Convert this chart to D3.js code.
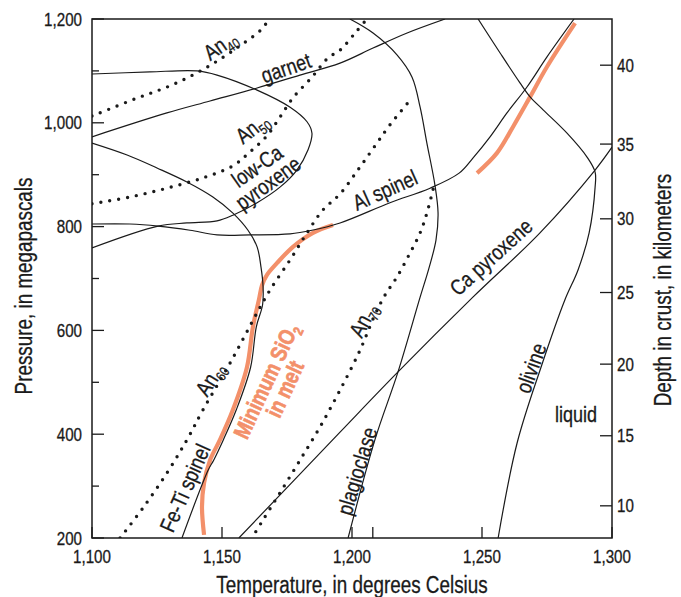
<!DOCTYPE html>
<html>
<head>
<meta charset="utf-8">
<script src="https://cdn.jsdelivr.net/npm/d3@7"></script>
<style>
  body { margin: 0; background: #fff; }
  text { font-family: "Liberation Sans", Arial, sans-serif; fill: #1a1a1a; stroke: #1a1a1a; stroke-width: 0.3px; }
  text.melt { font-weight: bold; fill: #f3906a; stroke: #f3906a; stroke-width: 0.7px; }
</style>
</head>
<body>
<svg id="chart" width="681" height="597"></svg>
<script>
//  axis ticks
const tempTicks = [1100, 1150, 1200, 1250, 1300];
const tempMinorTicks = [1208];
const pressureTicks = [200, 300, 400, 500, 600, 700, 800, 900, 1000, 1100, 1200];
const depthKm = [10, 15, 20, 25, 30, 35, 40];
const depthPressure = [262, 397, 535, 673, 815, 959, 1111];

//  phase boundaries, [temperature C, pressure MPa]
const garnet = [[1100, 973], [1128.8, 1019], [1145.4, 1042], [1163.5, 1067], [1180, 1092], [1195.4, 1115], [1208.1, 1144], [1221.2, 1173], [1235.8, 1200]];
const lowCaPyroxene = [[1100, 1094], [1122.3, 1098], [1140.4, 1100], [1148.1, 1092], [1163.5, 1063], [1176.2, 1030], [1182.7, 1002], [1184.6, 980], [1183.1, 948], [1178.8, 909], [1172.3, 876], [1163.5, 846], [1154.2, 822], [1148.1, 811], [1136.5, 807], [1125.4, 801], [1100, 759]];
const alSpinel = [[1100, 805], [1114.6, 805], [1125.4, 801], [1137.7, 793], [1148.1, 784], [1160.8, 784], [1176.2, 786], [1184.6, 793], [1195.4, 807], [1214.6, 846], [1230, 874], [1241.2, 903], [1246.5, 932], [1253.1, 973], [1259.6, 1019], [1267.3, 1069], [1275, 1127], [1285.4, 1200]];
const feTiSpinel = [[1100, 961], [1113.5, 938], [1125, 913], [1136.5, 886], [1146.5, 857], [1154.2, 826], [1160, 793], [1163.5, 761], [1165, 722], [1165.8, 684], [1165.6, 649], [1163.2, 607], [1161, 529], [1155.5, 447], [1150.5, 389], [1146.8, 350], [1144.6, 330], [1134.6, 200]];
const plagioclase = [[1199.2, 1200], [1208.1, 1173], [1217.3, 1131], [1223.1, 1088], [1226.2, 1030], [1228.8, 961], [1231.9, 880], [1233.1, 826], [1232.3, 774], [1229.6, 720], [1226.2, 664], [1217.7, 520], [1208.8, 389], [1198.5, 200]];
const caPyroxene = [[1300, 953], [1293.5, 909], [1272.3, 788], [1246.5, 664], [1217.7, 520], [1195.4, 404], [1156.5, 200]];
const olivine = [[1248.5, 1200], [1256.9, 1135], [1264.6, 1077], [1268.5, 1050], [1273.5, 1025], [1282.7, 980], [1290.4, 934], [1293.5, 905], [1293.5, 876], [1291.2, 788], [1286.9, 716], [1281.9, 659], [1272.7, 529], [1263.5, 383], [1256.2, 200]];

//  plagioclase composition (dotted)
const an40 = [[1100, 1013], [1116.5, 1046], [1130.8, 1073], [1144.2, 1107], [1156.2, 1146], [1165.4, 1181], [1168, 1200]];
const an50 = [[1100, 844], [1114.6, 857], [1128.8, 874], [1142.7, 894], [1154.2, 917], [1160.8, 944], [1167.3, 975], [1172.3, 1011], [1177.3, 1048], [1184.6, 1088], [1190.8, 1125], [1195.4, 1140], [1201.2, 1173], [1205.4, 1198]];
const an60 = [[1110.8, 200], [1119.6, 258], [1128.8, 325], [1136.5, 389], [1142.7, 447], [1153.1, 537], [1163.5, 634], [1168.5, 678], [1176.2, 736], [1182.7, 788], [1188.8, 832], [1195.4, 863], [1203.1, 915], [1209.6, 961], [1214.6, 996], [1223.1, 1048]];
const an70 = [[1231.2, 872], [1228.8, 826], [1226.2, 788], [1222.3, 749], [1217.3, 703], [1212.7, 668], [1208.8, 630], [1203.1, 562], [1195.4, 485], [1187.7, 414], [1180, 350], [1172.3, 287], [1165.8, 235], [1161.5, 200]];

//  minimum SiO2 in melt (orange)
const minSiO2Low = [[1192.7, 803], [1185, 788], [1177.3, 761], [1171.2, 730], [1167.3, 707], [1165.4, 687], [1164.2, 659], [1161.9, 607], [1159.6, 529], [1154.2, 447], [1149.2, 389], [1145.4, 350], [1143.1, 306], [1142.3, 260], [1143.1, 206]];
const minSiO2High = [[1248.1, 903], [1255.8, 942], [1261.9, 992], [1268.5, 1050], [1275, 1108], [1285.8, 1192]];

//  labels: [text, subscript, x, y, angle]
const labels = [
  ["An", "40", 220, 45, -35],
  ["garnet", "", 286, 68, -19],
  ["An", "50", 252, 128, -38],
  ["low-Ca", "", 257, 166, -35],
  ["pyroxene", "", 268, 183, -36],
  ["Al spinel", "", 385, 190, -24],
  ["Ca pyroxene", "", 491, 257, -42],
  ["An", "70", 363, 320, -62],
  ["An", "60", 210, 379, -58],
  ["Fe-Ti spinel", "", 185, 488, -66],
  ["plagioclase", "", 357, 471, -73],
  ["olivine", "", 531, 368, -70],
  ["liquid", "", 576, 414, 0]
];

//  narrow text: squeeze Liberation Sans along the baseline
function add_text(svg, x, y, angle, str, size, anchor) {
  return svg.append("text")
    .attr("transform", "translate(" + x + "," + y + ") rotate(" + angle + ") scale(0.82,1)")
    .attr("text-anchor", anchor)
    .style("font-size", size + "px")
    .text(str);
}

function draw_chart() {
  const margin = ({top: 19, right: 69, bottom: 59, left: 92});
  const w = 681;
  const h = 597;
  const orange = "#f3906a";

  const x = d3.scaleLinear().domain([1100, 1300]).range([margin.left, w - margin.right]);
  const y = d3.scaleLinear().domain([200, 1200]).range([h - margin.bottom, margin.top]);
  const depth = d3.scaleLinear().domain(depthKm).range(depthPressure.map(p => y(p)));

  const svg = d3.select("#chart");

  svg.append("clipPath").attr("id", "plot")
     .append("rect")
     .attr("x", x(1100)).attr("y", y(1200))
     .attr("width", x(1300) - x(1100)).attr("height", y(200) - y(1200));

  const g = svg.append("g").attr("clip-path", "url(#plot)");
  const line = d3.line().x(d => x(d[0])).y(d => y(d[1])).curve(d3.curveCatmullRom.alpha(0.5));

  //  minimum SiO2 (under the black lines)
  [minSiO2Low, minSiO2High].forEach(c => {
    g.append("path").attr("d", line(c))
     .attr("fill", "none").attr("stroke", orange).attr("stroke-width", 4.2);
  });

  //  solid boundaries
  [garnet, lowCaPyroxene, alSpinel, feTiSpinel, plagioclase, caPyroxene, olivine].forEach(c => {
    g.append("path").attr("d", line(c))
     .attr("fill", "none").attr("stroke", "#1a1a1a").attr("stroke-width", 1.2);
  });

  //  dotted An lines
  [an40, an50, an60, an70].forEach(c => {
    g.append("path").attr("d", line(c))
     .attr("fill", "none").attr("stroke", "#1a1a1a").attr("stroke-width", 3.4)
     .attr("stroke-linecap", "round").attr("stroke-dasharray", "0 9");
  });

  //  frame
  svg.append("rect")
     .attr("x", x(1100)).attr("y", y(1200))
     .attr("width", x(1300) - x(1100)).attr("height", y(200) - y(1200))
     .attr("fill", "none").attr("stroke", "#1a1a1a").attr("stroke-width", 1.5);

  //  bottom ticks, pointing in
  tempTicks.concat(tempMinorTicks).forEach(t => {
    svg.append("line")
       .attr("x1", x(t)).attr("x2", x(t))
       .attr("y1", y(200)).attr("y2", y(200) - 11)
       .attr("stroke", "#1a1a1a").attr("stroke-width", 1.3);
  });
  tempTicks.forEach(t => add_text(svg, x(t), 563, 0, d3.format(",")(t), 18.5, "middle"));

  //  left ticks
  pressureTicks.forEach(p => {
    const major = p % 200 == 0;
    svg.append("line")
       .attr("x1", x(1100)).attr("x2", x(1100) + (major ? 12 : 7))
       .attr("y1", y(p)).attr("y2", y(p))
       .attr("stroke", "#1a1a1a").attr("stroke-width", 1.3);
    if (major)
      add_text(svg, 82, y(p) + 6.5, 0, d3.format(",")(p), 18.5, "end");
  });

  //  right depth ticks
  depthKm.forEach(d => {
    svg.append("line")
       .attr("x1", x(1300) - 12).attr("x2", x(1300))
       .attr("y1", depth(d)).attr("y2", depth(d))
       .attr("stroke", "#1a1a1a").attr("stroke-width", 1.3);
    add_text(svg, 617, depth(d) + 6.5, 0, d, 18.5, "start");
  });

  //  axis titles
  add_text(svg, 352, 593, 0, "Temperature, in degrees Celsius", 23, "middle");
  add_text(svg, 32, 286, -90, "Pressure, in megapascals", 23, "middle");
  add_text(svg, 671, 290, -90, "Depth in crust, in kilometers", 23, "middle");

  //  curve labels
  labels.forEach(l => {
    const t = add_text(svg, l[2], l[3], l[4], l[0], 22, "middle").attr("dy", "0.35em");
    if (l[1] != "")
      t.append("tspan").attr("dy", 5).style("font-size", "14px").text(l[1]);
  });

  //  minimum SiO2 label
  const m1 = add_text(svg, 266, 381, -65, "Minimum SiO", 22.5, "middle")
     .attr("class", "melt").attr("dy", "0.35em");
  m1.append("tspan").attr("dy", 5).style("font-size", "14px").text("2");
  add_text(svg, 285, 389, -65, "in melt", 22.5, "middle")
     .attr("class", "melt").attr("dy", "0.35em");
}

draw_chart();
</script>
</body>
</html>
